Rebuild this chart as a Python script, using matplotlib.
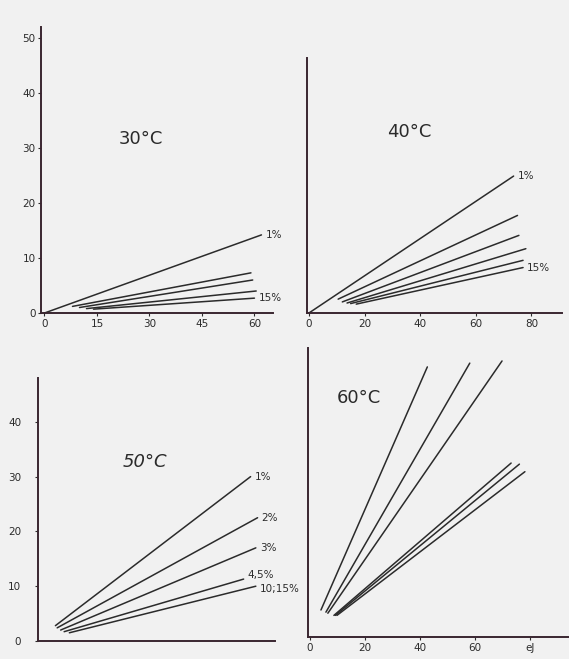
import matplotlib.pyplot as plt

# panel 30°C
t30_x0 = [0, 8, 10, 12, 14]
t30_y0 = [0, 1.2, 1.0, 0.8, 0.7]
t30_x1 = [62, 59, 59.5, 60.5, 60]
t30_y1 = [14.2, 7.3, 6.0, 4.0, 2.7]
t30_labels = ['1%', '', '', '', '15%']

# panel 40°C
t40_x0 = [0, 10.5, 12, 13.7, 15, 17]
t40_y0 = [0, 2.5, 2.0, 1.8, 1.7, 1.6]
t40_x1 = [73.6, 75, 75.5, 78, 77, 77]
t40_y1 = [24.7, 17.6, 14.0, 11.6, 9.5, 8.2]
t40_labels = ['1%', '', '', '', '', '15%']

# panel 50°C
t50_x0 = [4, 4.5, 5.5, 6.5, 8]
t50_y0 = [2.8, 2.4, 2.0, 1.7, 1.5]
t50_x1 = [60, 62, 61.5, 58, 61.5]
t50_y1 = [30, 22.5, 17, 11.3, 10]
t50_labels = ['1%', '2%', '3%', '4,5%', '10;15%']

# panel 60°C
t60_x0 = [4, 5.8, 6.5, 8.7, 9.2, 9.8]
t60_y0 = [5.0, 4.6, 4.4, 4.0, 4.0, 4.0]
t60_x1 = [42.6, 58, 69.7, 73, 76, 78]
t60_y1 = [50, 50.7, 51.1, 32.2, 32, 30.6]

W, H = 569, 659
ink = '#2b2b2b'
axis_col = '#3a2630'

fig = plt.figure(figsize=(W / 100, H / 100), dpi=100)
fig.patch.set_facecolor('#f1f1f1')


def make_ax(left, bottom, right, top, xlim, ylim):
    ax = fig.add_axes([left / W, 1 - bottom / H, (right - left) / W, (bottom - top) / H])
    ax.set_facecolor('none')
    ax.set_xlim(*xlim)
    ax.set_ylim(*ylim)
    for s in ['top', 'right']:
        ax.spines[s].set_visible(False)
    for s in ['left', 'bottom']:
        ax.spines[s].set_color(axis_col)
        ax.spines[s].set_linewidth(1.4)
    ax.tick_params(colors=ink, labelsize=7.5, length=2, width=0.8, pad=2)
    return ax


def draw(ax, x0, y0, x1, y1, labels=None, dy=None):
    for i in range(len(x0)):
        ax.plot([x0[i], x1[i]], [y0[i], y1[i]], color=ink, lw=1.1,
                solid_capstyle='round', clip_on=False)
        if labels and labels[i]:
            off = dy[i] if dy else 0
            ax.annotate(labels[i], (x1[i], y1[i]), xytext=(3, off),
                        textcoords='offset points', va='center', ha='left',
                        fontsize=7.5, color=ink, annotation_clip=False)


ax1 = make_ax(41, 313, 273, 27, (-1, 65.3), (0, 52))
ax1.set_xticks([0, 15, 30, 45, 60])
ax1.set_yticks([0, 10, 20, 30, 40, 50])
draw(ax1, t30_x0, t30_y0, t30_x1, t30_y1, t30_labels)
ax1.text(0.43, 0.59, '30°C', transform=ax1.transAxes, fontsize=13, color=ink, ha='center')

ax2 = make_ax(307, 313, 562, 58, (-0.7, 91), (0, 46))
ax2.set_xticks([0, 20, 40, 60, 80])
ax2.set_yticks([])
draw(ax2, t40_x0, t40_y0, t40_x1, t40_y1, t40_labels)
ax2.text(0.40, 0.69, '40°C', transform=ax2.transAxes, fontsize=13, color=ink, ha='center')

ax3 = make_ax(38, 641, 275, 378, (-1, 67), (0, 48))
ax3.set_xticks([])
ax3.set_yticks([0, 10, 20, 30, 40])
ax3.tick_params(axis='y', pad=10)
draw(ax3, t50_x0, t50_y0, t50_x1, t50_y1, t50_labels, dy=[0, 0, 0, 3, -2])
ax3.text(0.45, 0.66, '50°C', transform=ax3.transAxes, fontsize=13, color=ink,
         ha='center', style='italic')

ax4 = make_ax(308, 637, 569, 348, (-0.7, 94), (0, 53.5))
ax4.set_xticks([0, 20, 40, 60, 80])
ax4.set_xticklabels(['0', '20', '40', '60', 'eJ'])
ax4.set_yticks([])
draw(ax4, t60_x0, t60_y0, t60_x1, t60_y1)
ax4.text(0.11, 0.81, '60°C', transform=ax4.transAxes, fontsize=13, color=ink, ha='left')

fig.savefig('out.png', dpi=100, facecolor=fig.get_facecolor())
